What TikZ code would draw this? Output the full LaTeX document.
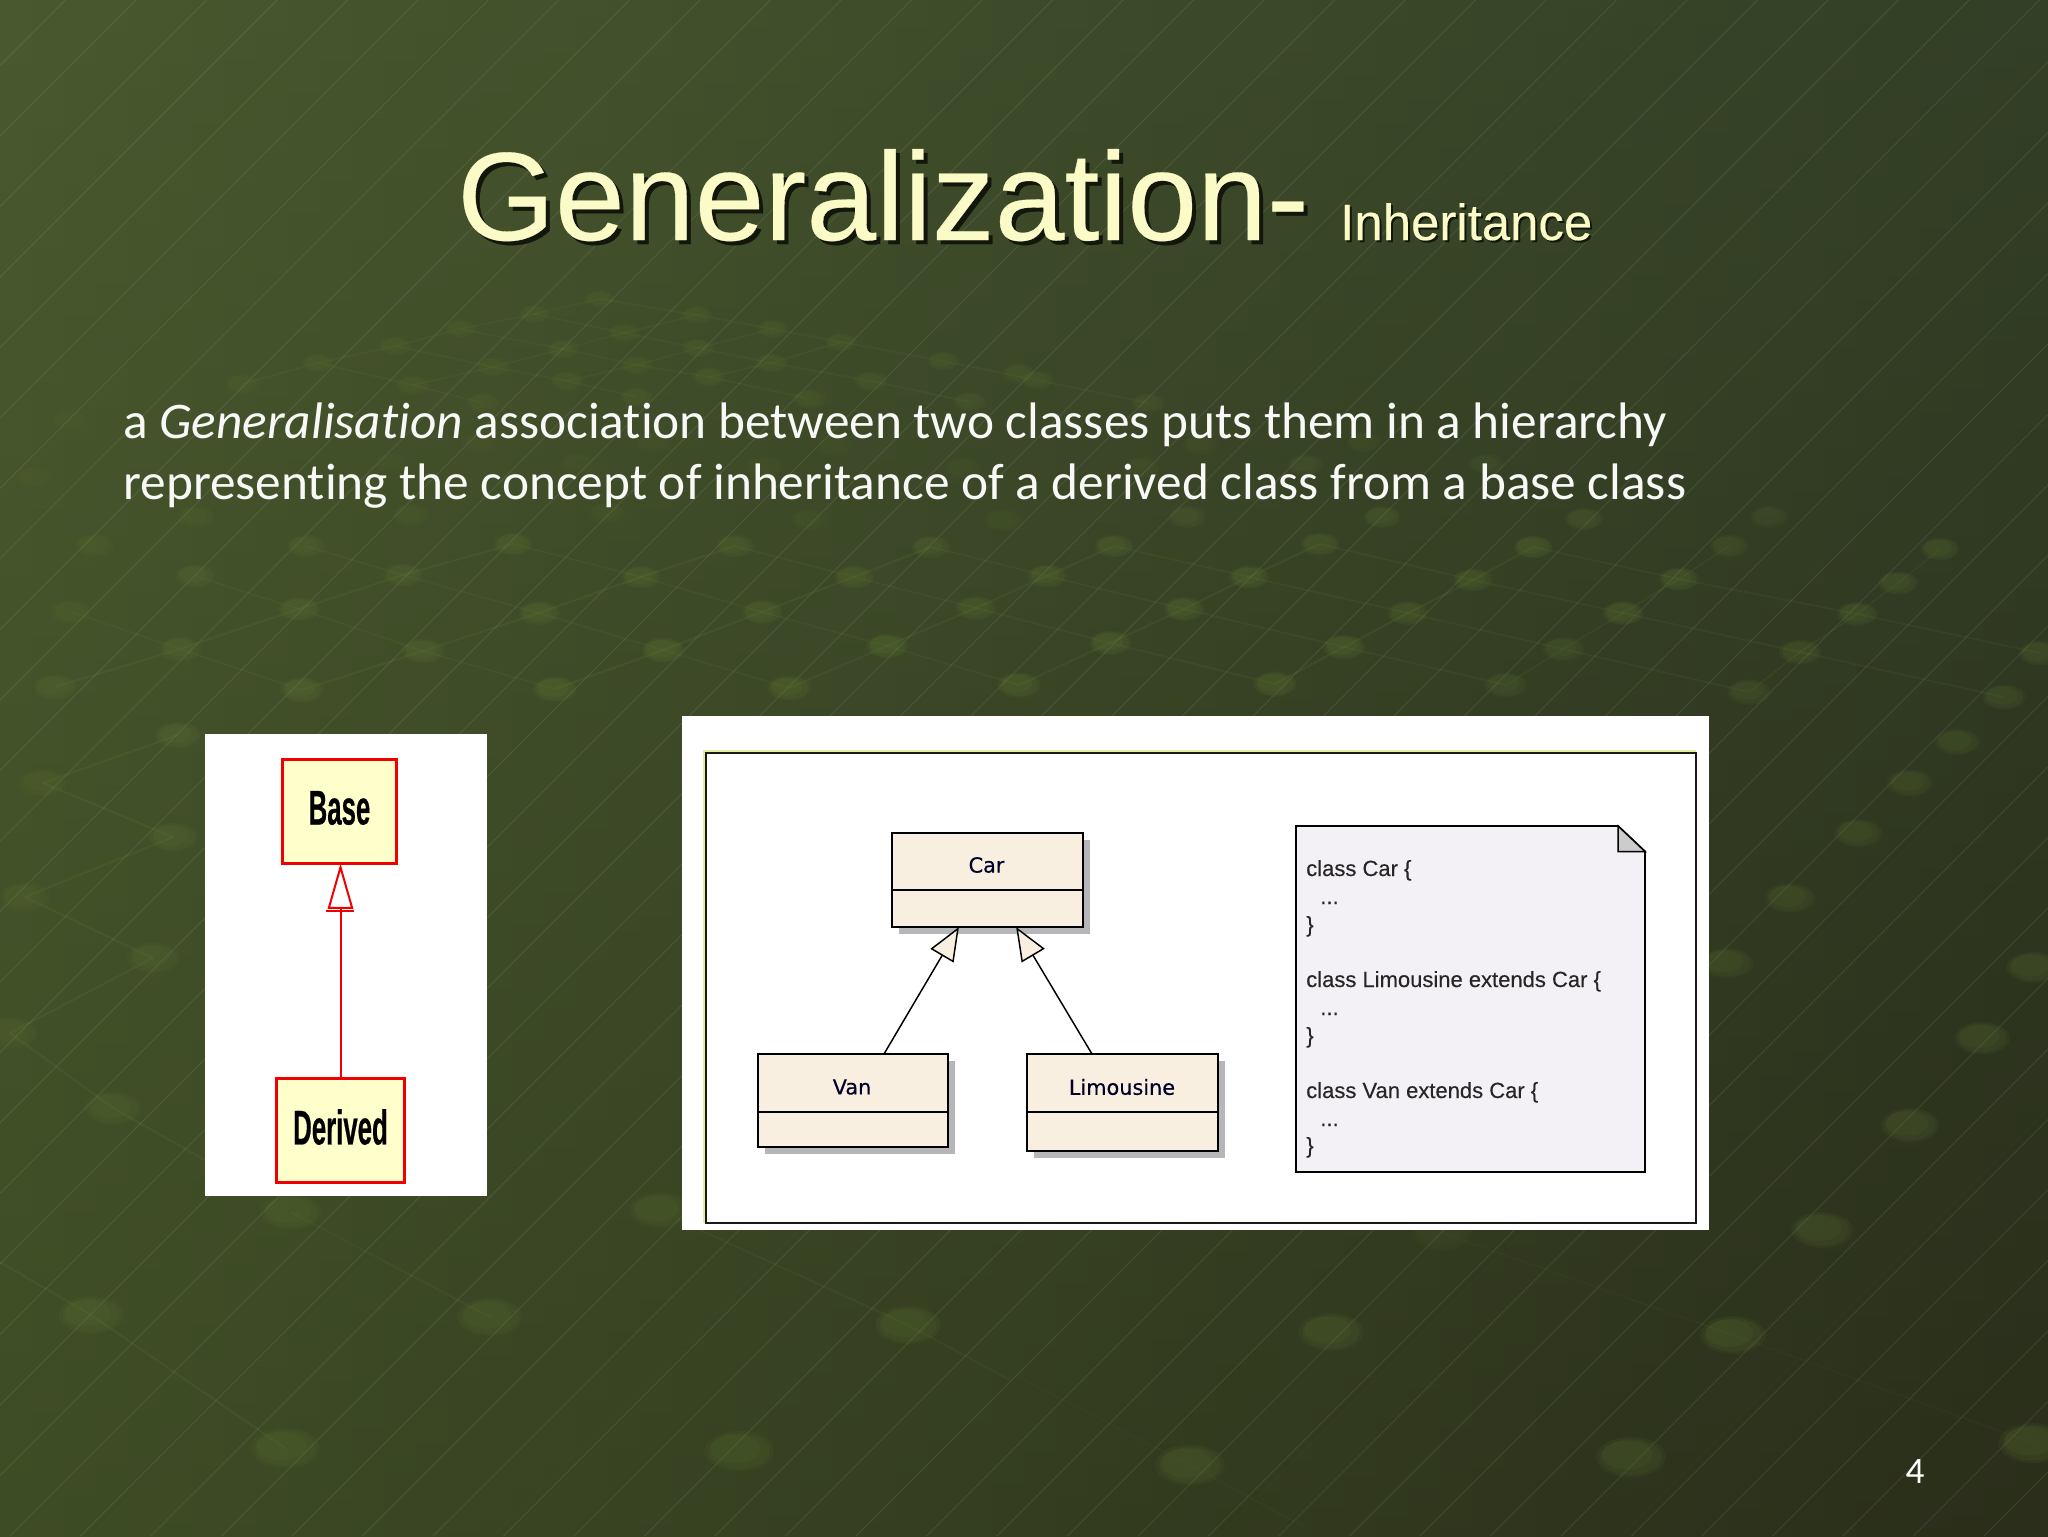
\documentclass[tikz,border=0pt]{standalone}
\usepackage{fontspec}
\setmainfont{Liberation Sans}
\newfontfamily\bodyfont[Ligatures=NoCommon]{Carlito}
\newfontfamily\umlfont[FakeBold=0.35]{DejaVu Sans}
\newfontfamily\titlefont[FakeBold=0.25]{Liberation Sans}
\newfontfamily\heavyfont[FakeBold=0.5]{Liberation Sans Bold}
\usetikzlibrary{arrows.meta,calc,shadows}
\definecolor{bgTL}{HTML}{49582E}
\definecolor{bgTR}{HTML}{333F26}
\definecolor{bgBL}{HTML}{3E4C25}
\definecolor{bgBR}{HTML}{2A2E1A}
\definecolor{bumpc}{HTML}{6F8A3C}
\definecolor{titlec}{HTML}{FBFBC8}
\definecolor{boxyellow}{HTML}{FFFFCC}
\definecolor{umlfill}{HTML}{F9EFE0}
\definecolor{umlshadow}{HTML}{B6B6BA}
\definecolor{notefill}{HTML}{F3F1F6}
\definecolor{foldfill}{HTML}{CCCCCC}
\definecolor{framehi}{HTML}{E2EE9A}
\definecolor{redline}{HTML}{F00000}
\tikzset{
  gridline/.style={color=bumpc,opacity=.13,line width=1.6pt},
  gridtop/.style={color=bumpc,opacity=.1,line width=1.3pt},
  diagline/.style={color=white,opacity=.09,line width=.6pt},
  titletxt/.style={anchor=base west,inner sep=0pt,text=titlec},
  titleshadow/.style={anchor=base west,inner sep=0pt,text=black!75!bgTL},
  bodytxt/.style={anchor=base west,inner sep=0pt,text=white!96!bgTL,font=\bodyfont\fontsize{38.5}{42}\selectfont},
  redbox/.style={draw=redline,fill=boxyellow,line width=2.4pt,outer sep=0pt,inner sep=0pt},
  redname/.style={inner sep=0pt,font=\heavyfont\fontsize{36.5}{40}\selectfont},
  umlbox/.style={draw=black,fill=umlfill,line width=1.4pt,outer sep=0pt,inner sep=0pt,
    copy shadow={draw=none,fill=umlshadow,opacity=1,shadow xshift=5pt,shadow yshift=-5pt}},
  umlname/.style={inner sep=0pt,font=\umlfont\fontsize{15.6}{18}\selectfont,text=black!85!blue},
  umldiv/.style={draw=black,line width=1.2pt},
  inherit/.style={draw=black,line width=1.1pt,-{Triangle[open,fill=umlfill,length=25pt,width=20pt]}},
  notetxt/.style={anchor=base west,inner sep=0pt,text=black!85,font=\titlefont\fontsize{16.5}{18}\selectfont},
}
\begin{document}
\begin{tikzpicture}[x=0.75pt,y=-0.75pt]
\useasboundingbox (0,0) rectangle (2048,1536);
\begin{scope}
\clip (0,0) rectangle (2048,1536);
% background
\foreach \i in {0,...,63}{
  \pgfmathtruncatemacro{\p}{100-\i*100/63}
  \pgfmathsetmacro{\xa}{\i*32}
  \pgfmathsetmacro{\xb}{\i*32+33}
  \shade[top color=bgTL!\p!bgTR,bottom color=bgBL!\p!bgBR] (\xa,0) rectangle (\xb,1536);
}
% network lines
\draw[gridline] plot coordinates {(55,687) (180,649) (299,609) (403,575) (513,544)};
\draw[gridline] plot coordinates {(302,690) (423,651) (539,613) (641,577) (735,546)};
\draw[gridline] plot coordinates {(555,689) (663,650) (762,612) (854,577) (931,547)};
\draw[gridline] plot coordinates {(789,688) (887,646) (976,608) (1047,576) (1114,546)};
\draw[gridline] plot coordinates {(1019,685) (1110,643) (1184,609) (1249,577) (1320,544)};
\draw[gridline] plot coordinates {(1275,684) (1344,647) (1408,613) (1473,580) (1533,547)};
\draw[gridtop] plot coordinates {(1506,685) (1563,649) (1623,613) (1679,579) (1729,546)};
\draw[gridtop] plot coordinates {(1749,692) (1800,652) (1857,614) (1898,583) (1940,549)};
\draw[gridtop] plot coordinates {(71,612) (180,649) (302,690)};
\draw[gridtop] plot coordinates {(195,576) (299,609) (423,651) (555,689)};
\draw[gridtop] plot coordinates {(306,546) (403,575) (539,613) (663,650) (789,688)};
\draw[gridtop] plot coordinates {(513,544) (641,577) (762,612) (887,646) (1019,685)};
\draw[gridtop] plot coordinates {(735,546) (854,577) (976,608) (1110,643) (1275,684)};
\draw[gridtop] plot coordinates {(931,547) (1047,576) (1184,609) (1344,647) (1506,685)};
\draw[gridtop] plot coordinates {(1114,546) (1249,577) (1408,613) (1563,649) (1749,692)};
\draw[gridtop] plot coordinates {(1320,544) (1473,580) (1623,613) (1800,652) (2004,697)};
\draw[gridtop] plot coordinates {(1533,547) (1679,579) (1857,614) (2040,653)};
\draw[gridtop] plot coordinates {(242,384) (318,363) (395,346) (460,329) (534,314) (600,299)};
\draw[gridtop] plot coordinates {(413,385) (493,367) (563,349) (624,333) (697,315)};
\draw[gridtop] plot coordinates {(567,381) (637,365) (698,348) (773,329)};
\draw[gridtop] plot coordinates {(709,377) (771,363) (841,342)};
\draw[gridtop] plot coordinates {(600,299) (697,315) (773,329) (841,342) (943,361) (1037,380) (1148,403)};
\draw[gridtop] plot coordinates {(534,314) (624,333) (698,348) (771,363) (871,381) (970,402)};
\draw[gridtop] plot coordinates {(460,329) (563,349) (637,365) (709,377) (810,399)};
\draw[gridtop] plot coordinates {(395,346) (493,367) (567,381) (637,397)};
\draw[gridtop] plot coordinates {(318,363) (413,385) (483,403)};
\draw[gridline] plot coordinates {(43,783) (178,735)};
\draw[gridline] plot coordinates {(25,897) (173,837)};
\draw[gridline] plot coordinates {(10,1033) (153,958)};
\draw[gridline] plot coordinates {(43,783) (173,837)};
\draw[gridline] plot coordinates {(25,897) (153,958)};
\draw[gridline] plot coordinates {(10,1033) (113,1108) (205,1160)};
\draw[gridline] plot coordinates {(0,1262) (91,1315) (285,1448)};
\draw[gridtop] plot coordinates {(291,1212) (490,1317)};
\draw[gridtop] plot coordinates {(700,1230) (908,1325) (1010,1380)};
\draw[gridtop,opacity=.05] plot coordinates {(1442,1233) (1733,1335) (2033,1443)};
\draw[gridtop,opacity=.05] plot coordinates {(1024,1380) (1190,1465) (1310,1530)};
% diagonal hairlines
\foreach \k in {-22,...,29}{
  \pgfmathsetmacro{\ca}{1546+70.5*\k}
  \pgfmathsetmacro{\cb}{\ca-1536}
  \draw[diagline] (\ca,0) -- (\cb,1536);
}
% bumps
\foreach \bx/\by/\bo in {
 600/299/.05,534/314/.05,697/315/.05,460/329/.05,624/333/.05,773/329/.05,395/346/.05,563/349/.05,698/348/.05,841/342/.05,
 318/363/.05,493/367/.05,637/365/.05,771/363/.05,943/361/.05,242/384/.05,413/385/.05,567/381/.05,709/377/.05,871/381/.05,1019/373/.05,
 637/397/.05,483/403/.05,810/399/.05,970/402/.05,1037/380/.05,1148/403/.05,69/420/.03,480/443/.03,653/443/.03,836/445/.03,1200/445/.04,1364/442/.04,
 392/462/.03,578/463/.03,764/467/.03,963/468/.03,1142/468/.04,1305/465/.05,1486/464/.05,33/477/.03,
 196/517/.04,411/515/.04,607/513/.04,810/520/.04,1003/520/.04,1187/517/.06,1382/517/.07,1584/519/.07,1769/517/.05,
 95/545/.05,306/546/.06,513/544/.07,735/546/.07,931/547/.07,1114/546/.08,1320/544/.08,1533/547/.09,1729/546/.06,1940/549/.08,
 195/576/.06,403/575/.07,641/577/.08,854/577/.08,1047/576/.08,1249/577/.09,1473/580/.08,1679/579/.09,1898/583/.08,
 71/612/.05,299/609/.07,539/613/.08,762/612/.08,976/608/.08,1184/609/.09,1408/613/.08,1623/613/.09,1857/614/.08,
 180/649/.06,423/651/.08,663/650/.09,887/646/.09,1110/643/.09,1344/647/.09,1563/649/.06,1800/652/.07,2040/653/.08,
 55/687/.06,302/690/.08,555/689/.09,789/688/.09,1019/685/.09,1275/684/.09,1506/685/.06,1749/692/.06,2004/697/.07,
 178/735/.07,1957/742/.07,43/783/.05,1910/783/.07,173/837/.07,1858/833/.07,25/897/.05,1790/898/.07,153/958/.06,1727/963/.07,2033/967/.08,
 10/1033/.05,1982/1038/.08,113/1108/.06,1910/1125/.08,
 291/1212/.07,660/1210/.07,1442/1233/.04,1822/1230/.08,91/1315/.07,490/1317/.07,908/1325/.08,1331/1332/.08,1733/1335/.09,
 285/1448/.07,739/1451/.07,1190/1465/.08,1631/1457/.08,2033/1443/.09}{
  \pgfmathsetmacro{\rx}{10+.017*\by}
  \pgfmathsetmacro{\ry}{.58*\rx}
  \pgfmathsetmacro{\rxb}{.88*\rx}
  \pgfmathsetmacro{\ryb}{.88*\ry}
  \pgfmathsetmacro{\rxc}{.72*\rx}
  \pgfmathsetmacro{\ryc}{.72*\ry}
  \fill[bumpc,opacity=\bo] (\bx,\by) ellipse [x radius=\rx,y radius=\ry];
  \fill[bumpc,opacity=\bo] (\bx,\by) ellipse [x radius=\rxb,y radius=\ryb];
  \fill[bumpc,opacity=\bo] (\bx-.1*\rx,\by-.1*\ry) ellipse [x radius=\rxc,y radius=\ryc];
}
\end{scope}
% title
\node[titleshadow,font=\titlefont\fontsize{94.2}{100}\selectfont] (titleS) at (461,244) {Generalization-};
\node[titletxt,font=\titlefont\fontsize{94.2}{100}\selectfont] (title) at (457,240) {Generalization-};
\node[titleshadow,font=\titlefont\fontsize{38.2}{40}\selectfont] (subS) at (1342,242) {Inheritance};
\node[titletxt,font=\titlefont\fontsize{38.2}{40}\selectfont] (sub) at (1340,240) {Inheritance};
% body
\node[bodytxt] (line1) at (123,438) {a \textit{Generalisation} association between two classes puts them in a hierarchy};
\node[bodytxt] (line2) at (123,499) {representing the concept of inheritance of a derived class from a base class};
\node[anchor=base,inner sep=0pt,text=white,font=\bodyfont\fontsize{28}{30}\selectfont] (pagenum) at (1915,1483) {4};
% left picture
\fill[white] (205,734) rectangle (487,1196);
\node[redbox,minimum width=86pt,minimum height=78pt] (base) at (339.5,811.5) {};
\node[redbox,minimum width=96.5pt,minimum height=78pt] (derived) at (340.5,1130.5) {};
\node[redname] (baselabel) at (339.5,808) {\scalebox{.53}[1]{Base}};
\node[redname] (derivedlabel) at (340.5,1127) {\scalebox{.53}[1]{Derived}};
\draw[draw=redline,line width=1.5pt,-{Triangle[open,fill=white,length=34pt,width=19pt]}] (derived.north) -- (derived.north |- base.south);
\draw[redline,line width=2.2pt] (326,911) -- (354,911);
% right picture
\fill[white] (682,716) rectangle (1709,1230);
\draw[black!90,line width=1.3pt] (706,753) rectangle (1696,1223);
\draw[framehi,line width=1.3pt] (704,1223) -- (704,751) -- (1696,751);
\node[umlbox,minimum width=143pt,minimum height=70.5pt] (car) at (987.5,880) {};
\node[umlbox,minimum width=142.5pt,minimum height=69.75pt] (van) at (853,1100.5) {};
\node[umlbox,minimum width=143pt,minimum height=72.75pt] (limo) at (1122.5,1102.5) {};
\draw[umldiv] (892,890) -- (1083,890);
\draw[umldiv] (758,1112) -- (948,1112);
\draw[umldiv] (1027,1112) -- (1218,1112);
\node[umlname] (carlabel) at (986.5,865) {Car};
\node[umlname] (vanlabel) at (852,1087) {Van};
\node[umlname] (limolabel) at (1122,1087) {Limousine};
\draw[inherit] ($(van.north west)!.663!(van.north east)$) -- ($(car.south west)!.35!(car.south east)$);
\draw[inherit] ($(limo.north west)!.34!(limo.north east)$) -- ($(car.south west)!.65!(car.south east)$);
% note
\draw[fill=notefill,draw=black,line width=1.4pt] (1296,826) -- (1618,826) -- (1645,851.5) -- (1645,1172) -- (1296,1172) -- cycle;
\draw[fill=foldfill,draw=black,line width=1.1pt] (1618,826) -- (1618,851.5) -- (1645,851.5) -- cycle;
\node[notetxt] (n1) at (1306,876) {class Car \{};
\node[notetxt] (n2) at (1320,904) {...};
\node[notetxt] (n3) at (1306,932) {\}};
\node[notetxt] (n4) at (1306,987) {class Limousine extends Car \{};
\node[notetxt] (n5) at (1320,1015) {...};
\node[notetxt] (n6) at (1306,1043) {\}};
\node[notetxt] (n7) at (1306,1098) {class Van extends Car \{};
\node[notetxt] (n8) at (1320,1126) {...};
\node[notetxt] (n9) at (1306,1153) {\}};
\end{tikzpicture}
\end{document}
